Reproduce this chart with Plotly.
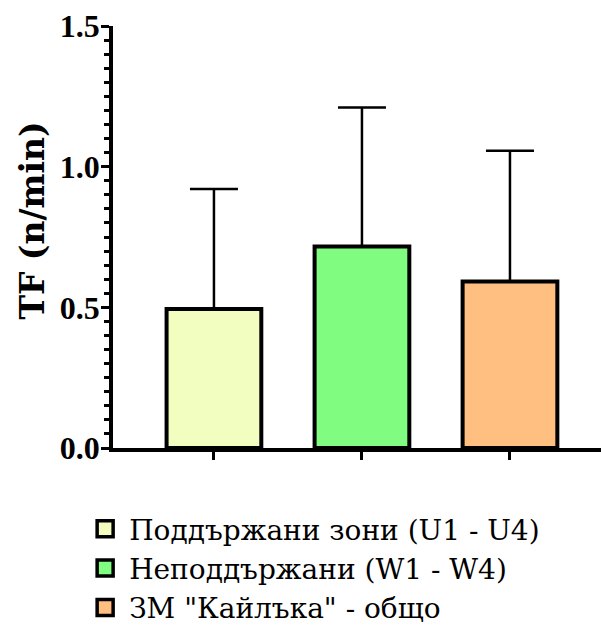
import plotly.graph_objects as go

categories = ["Поддържани зони (U1 - U4)", "Неподдържани (W1 - W4)", "ЗМ \"Кайлъка\" - общо"]
means = [0.494, 0.716, 0.592]
sd_upper = [0.427, 0.494, 0.465]
colors = ["#F2FDC0", "#80FD80", "#FFBF80"]
y_ticks = [0.0, 0.5, 1.0, 1.5]
y_title = "TF (n/min)"

fig = go.Figure()
for i, (cat, m, e, c) in enumerate(zip(categories, means, sd_upper, colors)):
    fig.add_trace(go.Bar(
        x=[i], y=[m], name=cat, width=0.64, showlegend=False,
        marker=dict(color=c, line=dict(color="black", width=4)),
        error_y=dict(type="data", array=[e], arrayminus=[0], symmetric=False,
                     color="black", thickness=2.5, width=24),
    ))
# legend entries (no data drawn)
for cat, c in zip(categories, colors):
    fig.add_trace(go.Scatter(
        x=[None], y=[None], mode="markers", name=cat,
        marker=dict(symbol="square", size=16, color=c, line=dict(color="black", width=3.5)),
    ))

fig.update_layout(
    width=601, height=630,
    margin=dict(l=113, r=0, t=26, b=182, autoexpand=False),
    paper_bgcolor="white", plot_bgcolor="white",
    showlegend=True,
    legend=dict(orientation="v", xref="container", yref="container",
                x=0.135, y=0.2, xanchor="left", yanchor="top",
                font=dict(family="DejaVu Serif", size=28, color="black"),
                tracegroupgap=4, itemwidth=38, itemsizing="trace"),
    xaxis=dict(range=[-0.682, 2.615], tickvals=[0, 1, 2], ticktext=["", "", ""],
               showline=True, linecolor="black", linewidth=3.5,
               ticks="outside", ticklen=8, tickwidth=3, tickcolor="black",
               showgrid=False, zeroline=False),
    yaxis=dict(range=[0, 1.5], tickvals=y_ticks, tickformat=".1f",
               showline=True, linecolor="black", linewidth=3.5,
               ticks="outside", ticklen=8, tickwidth=3, tickcolor="black",
               ticklabelstandoff=-5,
               minor=dict(dtick=0.05, ticks="outside", ticklen=5, tickwidth=2.5, tickcolor="black"),
               showgrid=False, zeroline=False,
               tickfont=dict(family="Liberation Serif", size=32, color="black", weight="bold")),
    bargap=0.3,
    annotations=[dict(text="<b>" + y_title + "</b>", textangle=-90,
                      xref="paper", yref="paper", x=-0.165, y=0.54,
                      xanchor="center", yanchor="middle", showarrow=False,
                      font=dict(family="DejaVu Serif", size=33, color="black"))],
)

fig.write_html("out.html")
